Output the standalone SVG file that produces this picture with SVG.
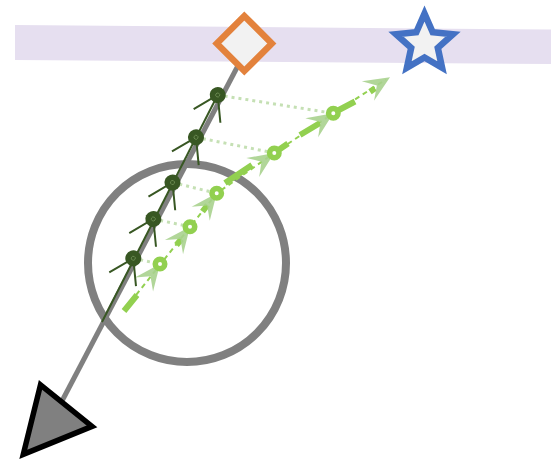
<svg xmlns="http://www.w3.org/2000/svg" width="551" height="462" viewBox="0 0 551 462">
  <defs>
    <style>
      .gray { stroke: #808080; fill: none; }
      .dk { stroke: #385723; stroke-width: 2; fill: none; }
      .dkdot { fill: #385723; }
      .dkmark { fill: none; stroke: #6f8f55; stroke-width: 0.8; }
      .dotted { stroke: #c5e0b4; stroke-width: 3; stroke-dasharray: 3 4; fill: none; }
      .thin { stroke: #92d050; stroke-width: 2; stroke-dasharray: 5 4; fill: none; }
      .thick { stroke: #92d050; stroke-width: 6; fill: none; }
      .ring { fill: #ffffff; stroke: #92d050; stroke-width: 5.5; }
      .ah { fill: #a9d18e; fill-opacity: 0.9; }
    </style>
    <path id="arrowhead" class="ah" d="M0,0 L-26,-11.5 L-15.5,0 L-26,11.5 Z"/>
    <g id="darknode">
      <path class="dk" d="M-23.5,-15 L0,0 L-23.5,15"/>
      <circle class="dkdot" r="8"/>
      <circle class="dkmark" r="2"/>
    </g>
  </defs>

  <!-- band -->
  <polygon id="band" points="15,25 551,29.5 551,64 15,60" fill="#e6dff0"/>

  <!-- big circle -->
  <g id="circle">
    <circle cx="187" cy="263" r="99" class="gray" stroke-width="8"/>
  </g>

  <g id="connectors">
    <!-- main gray line -->
    <line x1="242" y1="58" x2="62" y2="401" class="gray" stroke-width="5"/>
    <!-- dark green line -->
    <line x1="217.7" y1="95" x2="102" y2="322" class="dk"/>
    <!-- dotted links -->
    <line x1="217.7" y1="95" x2="333.3" y2="113.3" class="dotted"/>
    <line x1="196" y1="137.3" x2="274.3" y2="153" class="dotted"/>
    <line x1="172.5" y1="182.5" x2="216.7" y2="193.3" class="dotted"/>
    <line x1="153.3" y1="219" x2="190" y2="226.7" class="dotted"/>
    <line x1="133.3" y1="258.3" x2="160" y2="264" class="dotted"/>
    <!-- light green path -->
    <path class="thin" d="M125,309 L216.7,193.3 L274.3,153 L333.3,113.3 L386,79.5"/>
    <path class="thick" d="M124,311 L137,295 M176.5,245 L181.5,239 M202.5,211.5 L207.5,205 M225,183 L252,165 M276,151.8 L288,143.5 M336,111.5 L355,101.5 M300,135 L320,123 M370,91.7 L375,88.3"/>
    <use href="#arrowhead" transform="translate(160,264) rotate(-52)"/>
    <use href="#arrowhead" transform="translate(190,226.7) rotate(-52)"/>
    <use href="#arrowhead" transform="translate(216.7,193.3) rotate(-52)"/>
    <use href="#arrowhead" transform="translate(274.3,153) rotate(-34)"/>
    <use href="#arrowhead" transform="translate(333.3,113.3) rotate(-34)"/>
    <use href="#arrowhead" transform="translate(390,77.3) rotate(-32)"/>
  </g>

  <!-- triangle end -->
  <g id="triangle">
    <polygon points="40.5,384.8 92,426.4 23.3,454.3" fill="#808080" stroke="#000000" stroke-width="5.5" stroke-linejoin="miter"/>
  </g>

  <!-- rings -->
  <g id="ring1"><circle cx="160" cy="264" r="4.75" class="ring"/></g>
  <g id="ring2"><circle cx="190" cy="226.7" r="4.75" class="ring"/></g>
  <g id="ring3"><circle cx="216.7" cy="193.3" r="4.75" class="ring"/></g>
  <g id="ring4"><circle cx="274.3" cy="153" r="4.75" class="ring"/></g>
  <g id="ring5"><circle cx="333.3" cy="113.3" r="4.75" class="ring"/></g>

  <!-- dark nodes -->
  <g id="dark1"><use href="#darknode" transform="translate(217.7,95) rotate(-63)"/></g>
  <g id="dark2"><use href="#darknode" transform="translate(196,137.3) rotate(-63)"/></g>
  <g id="dark3"><use href="#darknode" transform="translate(172.5,182.5) rotate(-63)"/></g>
  <g id="dark4"><use href="#darknode" transform="translate(153.3,219) rotate(-63)"/></g>
  <g id="dark5"><use href="#darknode" transform="translate(133.3,258.3) rotate(-63)"/></g>

  <!-- diamond -->
  <g id="diamond">
    <polygon points="244.3,16 271.8,43.5 244.3,71 216.8,43.5" fill="#f2f2f2" stroke="#e3823c" stroke-width="6.5"/>
  </g>

  <!-- star -->
  <g id="star">
    <polygon points="424.5,13.5 432.7,32.2 453,34.2 437.8,47.8 442.1,67.8 424.5,57.5 406.9,67.8 411.2,47.8 396,34.2 416.3,32.2" fill="#f2f2f2" stroke="#4472c4" stroke-width="6.5"/>
  </g>
</svg>
